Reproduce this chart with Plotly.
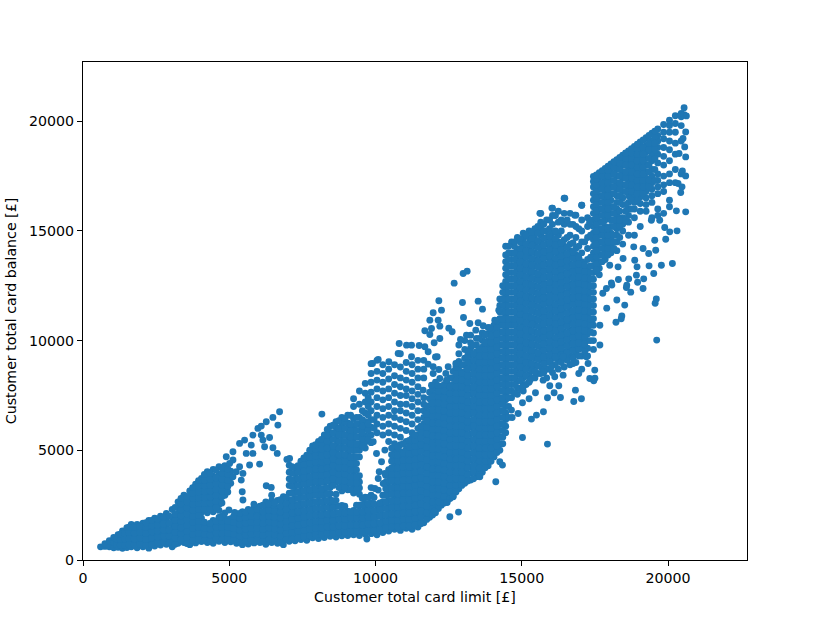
import plotly.graph_objects as go

low_limits = [600, 750, 900, 1050, 1200, 1350, 1500, 1650, 1850, 2050, 2250, 2450, 2650, 2850, 3050, 3250, 3450, 3650, 3850, 4050, 4250, 4450, 4650, 4850, 5050, 5250, 5450, 5650, 5850, 6050, 6250, 6450, 6650, 6850, 7050]
low_balances = [
    [600], [620, 740], [600, 880], [560, 800, 1030], [580, 850, 1150], [530, 800, 1060, 1320],
    [570, 840, 1100, 1470], [600, 870, 1140, 1400, 1620], [560, 830, 1100, 1350, 1620],
    [600, 870, 1130, 1400, 1680], [540, 820, 1090, 1350, 1650, 1800], [640, 900, 1160, 1430, 1750, 1900],
    [680, 940, 1200, 1470, 1800, 2000], [720, 980, 1250, 1520, 1830, 2120],
    [600, 860, 1130, 1400, 1680, 1950, 2300], [760, 1030, 1300, 1570, 1840, 2110, 2380, 2650],
    [800, 1070, 1340, 1610, 1880, 2150, 2420, 2690, 2950], [700, 980, 1250, 1520, 1790, 2060, 2330, 2600, 2870, 3150],
    [780, 1040, 1310, 1580, 1850, 2120, 2390, 2660, 2930, 3200, 3450],
    [840, 1100, 1370, 1640, 1910, 2180, 2450, 2720, 2990, 3260, 3530, 3720],
    [800, 1060, 1330, 1600, 2150, 2420, 2690, 2960, 3230, 3500, 3770, 4020],
    [760, 1020, 1290, 1560, 1800, 2200, 2470, 2740, 3010, 3280, 3550, 3820, 4130],
    [850, 1120, 1390, 1660, 1940, 2260, 2530, 2800, 3070, 3340, 3610, 3880, 4250],
    [800, 1080, 1350, 1620, 1900, 2150, 2950, 3220, 3490, 3760, 4030, 4300],
    [830, 1070, 1340, 1610, 1880, 3500, 3780, 4050],
    [760, 1030, 1300, 1570, 1850, 2100], [700, 970, 1240, 1510, 1780, 2050, 2200],
    [730, 1000, 1270, 1540, 1810, 2080, 2300], [780, 1050, 1320, 1590, 1860, 2130, 2400],
    [800, 1070, 1340, 1610, 1880, 2150, 2450], [720, 990, 1260, 1530, 1800, 2070, 2340, 2650],
    [800, 1070, 1340, 1610, 1880, 2150, 2420, 2700, 2950], [760, 1030, 1300, 1570, 1840, 2110, 2380, 2720],
    [700, 970, 1240, 1510, 1780, 2050, 2320, 2590, 2880], [850, 1120, 1390, 1660, 1930, 2200, 2470, 2740, 3050, 3400, 3700, 4000, 4320],
]

middle_limits = [7250, 7450, 7650, 7850, 8050, 8250, 8450, 8650, 8850, 9050, 9250, 9450, 9650, 9850, 10050, 10250, 10450, 10650, 10850, 11050, 11250, 11450, 11650]
middle_balances = [
    [880, 1150, 1420, 1700, 1980, 2250, 2530, 2810, 3090, 3370, 3650, 3930, 4200],
    [930, 1200, 1480, 1750, 2030, 2310, 2580, 2860, 3140, 3420, 3700, 3970, 4250, 4500],
    [900, 1180, 1460, 1730, 2000, 2280, 2560, 2840, 3110, 3390, 3670, 3950, 4220, 4500, 4780],
    [1010, 1280, 1560, 1830, 2110, 2390, 2670, 2950, 3220, 3500, 3780, 4060, 4330, 4610, 4890, 5200],
    [980, 1250, 1530, 1810, 2090, 2360, 2640, 2920, 3200, 3480, 3750, 4030, 4310, 4590, 4870, 5140, 5400],
    [1020, 1300, 1580, 1860, 2130, 2410, 2690, 2970, 3250, 3530, 3800, 4080, 4360, 4640, 4910, 5190, 5470, 5700],
    [1080, 1350, 1630, 1900, 2180, 2460, 2740, 3020, 3300, 3570, 3850, 4130, 4410, 4690, 4960, 5240, 5520, 5800, 6100],
    [1050, 1330, 1610, 1880, 2160, 2440, 2720, 3000, 3560, 3840, 4120, 4400, 4680, 4950, 5230, 5510, 5790, 6050, 6300],
    [1100, 1380, 1650, 1930, 2210, 2490, 3150, 3430, 3710, 3990, 4270, 4550, 4820, 5100, 5380, 5660, 5940, 6200, 6500],
    [1120, 1400, 1680, 1950, 2230, 3200, 3480, 3750, 4030, 4310, 4590, 4870, 5140, 5420, 5700, 5980, 6250, 6600],
    [1150, 1430, 1700, 1980, 2260, 3050, 3330, 3610, 3880, 4160, 4440, 4720, 5000, 5270, 5550, 5830, 6100, 6450, 7000, 7350],
    [1120, 1400, 1680, 1960, 2240, 2500, 3000, 3280, 3560, 3840, 4700, 5000, 5300, 5600, 5900, 6200, 6500, 7100, 7700],
    [1180, 1460, 1740, 2020, 2300, 2580, 2860, 5100, 5380, 5660, 6000, 6300, 6700, 7200, 7600, 8050],
    [1200, 1480, 1760, 2040, 2320, 2600, 2950, 3300, 5350, 5700, 6050, 6400, 6800, 7200, 7650, 8100, 8500, 8950],
    [1150, 1430, 1700, 1980, 2260, 2500, 5800, 6200, 6600, 7000, 7400, 7800, 8200, 8600, 9100],
    [1250, 1530, 1800, 2080, 2360, 2650, 2950, 5700, 6100, 6500, 6900, 7300, 7700, 8100, 8500, 8900],
    [1320, 1600, 1880, 2160, 2440, 2720, 3000, 3280, 3560, 3840, 4120, 5400, 5800, 6200, 6600, 7000, 7400, 7800, 8250, 8700],
    [1400, 1700, 2000, 2300, 2600, 2900, 3200, 3500, 3800, 4100, 4400, 4700, 5000, 5300, 5700, 6100, 6500, 6800, 7200, 7600, 8000, 8400, 8900],
    [1350, 1650, 1950, 2250, 2550, 2850, 3150, 3450, 3750, 4050, 4350, 4650, 4950, 5250, 5600, 6000, 6400, 6800, 7100, 7500, 7900, 8300, 8800, 9400],
    [1450, 1750, 2050, 2350, 2650, 2950, 3250, 3550, 3850, 4150, 4450, 4750, 5050, 5400, 5900, 6300, 6700, 7100, 7500, 7800, 8200, 8600, 9000],
    [1400, 1700, 2000, 2300, 2600, 2900, 3200, 3500, 3800, 4100, 4400, 4700, 5000, 5300, 5550, 5800, 6200, 6600, 7000, 7350, 7700, 8100, 8500, 8900],
    [1500, 1800, 2100, 2400, 2700, 3000, 3300, 3600, 3900, 4200, 4500, 4800, 5100, 5400, 5700, 6000, 6400, 6800, 7200, 7550, 7900, 8300, 8700, 9100],
    [1700, 2000, 2300, 2600, 2900, 3200, 3500, 3800, 4100, 4400, 4700, 5000, 5300, 5600, 5900, 6200, 6500, 6800, 7100, 7400, 8300, 8700, 9100],
]

blob_limits = [11850, 12050, 12250, 12450, 12650, 12850, 13050, 13250, 13450, 13650, 13850, 14050, 14250, 14450]
blob_balances = [
    [1950, 2250, 2550, 2850, 3150, 3450, 3750, 4050, 4350, 4650, 4950, 5250, 5550, 5850, 6150, 6450, 6750, 7050, 7350, 7650],
    [2150, 2450, 2750, 3050, 3350, 3650, 3950, 4250, 4550, 4850, 5150, 5450, 5750, 6050, 6350, 6650, 6950, 7250, 7550, 7850, 8100, 9250],
    [2500, 2800, 3100, 3400, 3700, 4000, 4300, 4600, 4900, 5200, 5500, 5800, 6100, 6400, 6700, 7000, 7300, 7600, 7900],
    [2700, 3000, 3300, 3600, 3900, 4200, 4500, 4800, 5100, 5400, 5700, 6000, 6300, 6600, 6900, 7200, 7500, 7800, 8050],
    [2900, 3200, 3500, 3800, 4100, 4400, 4700, 5000, 5300, 5600, 5900, 6200, 6500, 6800, 7100, 7400, 7700, 8000, 8300, 8600],
    [3250, 3550, 3850, 4150, 4450, 4750, 5050, 5350, 5650, 5950, 6250, 6550, 6850, 7150, 7450, 7750, 8050, 8350, 8650, 9050, 9400, 9800],
    [3500, 3800, 4100, 4400, 4700, 5000, 5300, 5600, 5900, 6200, 6500, 6800, 7100, 7400, 7700, 8000, 8300, 8600, 8900, 9200, 9600, 10000],
    [3650, 3950, 4250, 4550, 4850, 5150, 5450, 5750, 6050, 6350, 6650, 6950, 7250, 7550, 7850, 8150, 8450, 8750, 9050, 9350, 9650, 9900, 10250],
    [3800, 4100, 4400, 4700, 5000, 5300, 5600, 5900, 6200, 6500, 6800, 7100, 7400, 7700, 8000, 8300, 8600, 8900, 9200, 9500, 9800, 10100],
    [4000, 4300, 4600, 4900, 5200, 5500, 5800, 6100, 6400, 6700, 7000, 7300, 7600, 7900, 8200, 8500, 8800, 9100, 9400, 9700, 10000, 10350],
    [4300, 4600, 4900, 5200, 5500, 5800, 6100, 6400, 6700, 7000, 7300, 7600, 7900, 8200, 8500, 8800, 9100, 9400, 9700, 10000, 10300, 10600],
    [4700, 5000, 5300, 5600, 5900, 6200, 6500, 6800, 7100, 7400, 7700, 8000, 8300, 8600, 8900, 9200, 9500, 9800, 10100, 10400, 10700],
    [5000, 5300, 5600, 5900, 6200, 6500, 6800, 7100, 7400, 7700, 8000, 8300, 8600, 8900, 9200, 9500, 9800, 10100, 10400, 10700, 11000, 11300, 11600, 11900],
    [5800, 6100, 6400, 6700, 7000, 7300, 7600, 7900, 8200, 8500, 8800, 9100, 9400, 9700, 10000, 10300, 10600, 10900, 11200, 11500, 11800, 12100, 12400, 12700, 13000, 13300, 13600, 13900, 14300],
]

peak_limits = [14650, 14850, 15050, 15250, 15450, 15650, 15850, 16050, 16250, 16450, 16650, 16850, 17050, 17250, 17450]
peak_balances = [
    [7400, 7700, 8000, 8300, 8600, 8900, 9200, 9500, 9800, 10100, 10400, 10700, 11000, 11300, 11600, 11900, 12200, 12500, 12800, 13100, 13400, 13700, 14000, 14500],
    [7550, 7850, 8150, 8450, 8750, 9050, 9350, 9650, 9950, 10250, 10550, 10850, 11150, 11450, 11750, 12050, 12350, 12650, 12950, 13250, 13550, 13850, 14150, 14700],
    [7700, 8000, 8300, 8600, 8900, 9200, 9500, 9800, 10100, 10400, 10700, 11000, 11300, 11600, 11900, 12200, 12500, 12800, 13100, 13400, 13700, 14000, 14300, 14600, 14900],
    [8100, 8450, 8750, 9050, 9350, 9650, 9950, 10250, 10550, 10850, 11150, 11450, 11750, 12050, 12350, 12650, 12950, 13250, 13550, 13850, 14150, 14450, 14700, 15000],
    [8300, 8600, 8900, 9200, 9500, 9800, 10100, 10400, 10700, 11000, 11300, 11600, 11900, 12200, 12500, 12800, 13100, 13400, 13700, 14000, 14300, 14600, 14850, 15100],
    [8500, 8800, 9100, 9400, 9700, 10000, 10300, 10600, 10900, 11200, 11500, 11800, 12100, 12400, 12700, 13000, 13300, 13600, 13900, 14200, 14500, 14800, 15100, 15400, 15800],
    [8300, 8700, 9000, 9300, 9600, 9900, 10200, 10500, 10800, 11100, 11400, 11700, 12000, 12300, 12600, 12900, 13200, 13500, 13800, 14100, 14400, 14700, 15000, 15500],
    [8550, 8900, 9200, 9500, 9800, 10100, 10400, 10700, 11000, 11300, 11600, 11900, 12200, 12500, 12800, 13100, 13400, 13700, 14000, 14300, 14600, 14900, 15300, 15700, 16040],
    [8700, 9100, 9400, 9700, 10000, 10300, 10600, 10900, 11200, 11500, 11800, 12100, 12400, 12700, 13000, 13300, 13600, 13900, 14200, 14500, 14800, 15400, 15900],
    [8800, 9200, 9500, 9800, 10100, 10400, 10700, 11000, 11300, 11600, 11900, 12200, 12500, 12800, 13100, 13400, 13700, 14000, 14300, 14600, 15300, 15800, 16490],
    [8900, 9300, 9600, 9900, 10200, 10500, 10800, 11100, 11400, 11700, 12000, 12300, 12600, 12900, 13200, 13500, 13800, 14100, 14400, 14800, 15300, 15800],
    [9000, 9400, 9700, 10000, 10300, 10600, 10900, 11200, 11500, 11800, 12100, 12400, 12700, 13000, 13300, 13600, 13900, 14200, 14700, 15200, 15720],
    [8700, 9300, 9700, 10000, 10300, 10600, 10900, 11200, 11500, 11800, 12100, 12400, 12700, 13000, 13300, 13600, 14000, 14500, 15000, 15500, 16170],
    [9300, 9650, 10000, 10300, 10600, 10900, 11200, 11500, 11800, 12100, 12400, 12700, 13000, 13300, 13700, 14200, 14700, 15200, 15600],
    [9600, 10000, 10350, 10700, 11000, 11300, 11600, 11900, 12200, 12500, 12800, 13100, 13400, 13700, 14000, 14300, 14600, 14900, 15200, 15500, 15800, 16100, 16400, 16700, 17000, 17250, 17480],
]

top_limits = [17650, 17850, 18050, 18250, 18450, 18650, 18850, 19050, 19250, 19450, 19650, 19850, 20050, 20250, 20450, 20550]
top_balances = [
    [13000, 13300, 13600, 13900, 14200, 14500, 14800, 15100, 15400, 15700, 16000, 16300, 16600, 16900, 17200, 17450, 17650],
    [13700, 14000, 14300, 14600, 14900, 15200, 15500, 15800, 16100, 16400, 16700, 17000, 17300, 17600, 17850],
    [14000, 14300, 14600, 14900, 15200, 15500, 15800, 16100, 16400, 16700, 17000, 17300, 17600, 17850, 18050],
    [14100, 14500, 14800, 15100, 15400, 15700, 16000, 16300, 16600, 16900, 17200, 17500, 17800, 18050, 18250],
    [14400, 15000, 15300, 15600, 16200, 16500, 16800, 17100, 17400, 17700, 18000, 18250, 18450],
    [14800, 15400, 15700, 16000, 16300, 16600, 17000, 17300, 17600, 17900, 18200, 18450, 18650],
    [14800, 15600, 16000, 16300, 16600, 16900, 17200, 17500, 17800, 18100, 18400, 18650, 18850],
    [15200, 15900, 16250, 16550, 16850, 17150, 17450, 17750, 18050, 18350, 18650, 18850, 19050],
    [15900, 16200, 16500, 16800, 17100, 17400, 17700, 18000, 18300, 18600, 18900, 19250],
    [15600, 16300, 16600, 16900, 17200, 17500, 17800, 18200, 18500, 18800, 19100, 19450],
    [15700, 16000, 16700, 17000, 17300, 17600, 18100, 18500, 18800, 19100, 19350, 19650],
    [15800, 16800, 17100, 17500, 18000, 18400, 18800, 19200, 19500, 19850],
    [16100, 16400, 17200, 17600, 18200, 18700, 19100, 19500, 19800, 20050],
    [17200, 17800, 18500, 19000, 19500, 19900, 20250],
    [17600, 19100, 19800, 20200, 20350],
    [20300, 20620],
]

# Customers between the columns above, in the crowded parts of the cloud
between_limits_a = [1150, 1275, 1425, 1575, 1750, 1950, 2150, 2350, 2550, 2750, 2950, 3150, 3350, 3550, 3750, 3950, 4150, 4350, 4550, 4750, 4950, 5150, 5350, 5550, 5750, 5950, 6150, 6350, 6550, 6750, 6950, 7150]
between_balances_a = [
    [700, 950], [680, 930, 1180], [680, 950, 1200], [700, 980, 1250, 1500], [700, 970, 1230, 1480], [720, 1000, 1260, 1520],
    [680, 950, 1220, 1500, 1700], [700, 1000, 1290, 1560, 1800], [780, 1050, 1320, 1600, 1870], [820, 1090, 1360, 1650, 1950],
    [800, 1100, 1380, 1670, 2000], [720, 1000, 1270, 1540, 1810, 2080, 2400], [920, 1200, 1470, 1750, 2020, 2290, 2560, 2800],
    [750, 1020, 1300, 1570, 1840, 2110, 2380, 2650, 2900], [900, 1180, 1450, 1720, 1990, 2260, 2530, 2800, 3050, 3300],
    [950, 1220, 1490, 1760, 2030, 2300, 2570, 2840, 3110, 3380, 3620], [900, 1180, 1450, 1720, 2300, 2570, 2840, 3110, 3380, 3650, 3900],
    [880, 1150, 1420, 1680, 2330, 2600, 2870, 3140, 3410, 3680, 3950], [960, 1230, 1500, 1770, 2400, 2670, 2940, 3210, 3480, 3750, 4100],
    [930, 1200, 1480, 1750, 2000, 2600, 2880, 3150, 3420, 3690, 3960, 4200], [940, 1210, 1480, 1750, 3100, 3350, 3620, 3900, 4150],
    [900, 1170, 1440, 1710, 1980], [830, 1100, 1370, 1640, 1910, 2120], [860, 1130, 1400, 1670, 1940, 2180], [900, 1170, 1440, 1710, 1980, 2250],
    [920, 1190, 1460, 1730, 2000, 2300], [850, 1120, 1390, 1660, 1930, 2200, 2500], [930, 1200, 1470, 1740, 2010, 2280, 2550],
    [880, 1150, 1420, 1690, 1960, 2230, 2600], [830, 1100, 1370, 1640, 1910, 2180, 2450, 2750], [950, 1220, 1490, 1760, 2030, 2300, 2570, 2850],
    [950, 1250, 1550, 1850, 2150, 2450, 2750, 3050, 3350, 3650, 3950, 4250],
]

between_limits_b = [7350, 7550, 7750, 7950, 8150, 8350, 8550, 8750, 8950, 9150, 9350, 9550, 9750, 9950, 10150, 10350, 10550, 10750, 10950, 11150, 11350, 11550, 11750]
between_balances_b = [
    [1000, 1300, 1600, 1900, 2200, 2500, 2800, 3100, 3400, 3700, 4000, 4300],
    [1050, 1350, 1650, 1950, 2250, 2550, 2850, 3150, 3450, 3750, 4050, 4350, 4650],
    [1100, 1400, 1700, 2000, 2300, 2600, 2900, 3200, 3500, 3800, 4100, 4400, 4700, 5000],
    [1150, 1450, 1750, 2050, 2350, 2650, 2950, 3250, 3550, 3850, 4150, 4450, 4750, 5050, 5250],
    [1150, 1450, 1750, 2050, 2350, 2650, 2950, 3250, 3550, 3850, 4150, 4450, 4750, 5050, 5350, 5500],
    [1200, 1500, 1800, 2100, 2400, 2700, 3000, 3300, 3600, 3900, 4200, 4500, 4800, 5100, 5400, 5700, 5950],
    [1200, 1500, 1800, 2100, 2400, 2700, 3400, 3700, 4000, 4300, 4600, 4900, 5200, 5500, 5800, 6150],
    [1250, 1550, 1850, 2150, 2450, 3300, 3600, 3900, 4200, 4500, 4800, 5100, 5400, 5700, 6000, 6350],
    [1250, 1550, 1850, 2150, 2450, 3300, 3600, 3900, 4200, 4500, 4800, 5100, 5400, 5700, 6000, 6300, 6450],
    [1300, 1600, 1900, 2200, 3200, 3500, 3800, 4100, 4400, 4700, 5000, 5300, 5600, 5900, 6200, 6600],
    [1300, 1600, 1900, 2200, 2500, 3200, 3500, 3800, 4100, 4400, 4700, 5000, 5300, 5600, 5900, 6200, 6500],
    [1300, 1600, 1900, 2200, 2500, 2800, 5200, 5500, 5800, 6100, 6400, 6800],
    [1350, 1650, 1950, 2250, 2550, 2850, 5500, 5900, 6200, 6600, 7000, 7400],
    [1350, 1650, 1950, 2250, 2550, 2850, 6000, 6400],
    [1400, 1700, 2000, 2300, 2600],
    [1450, 1750, 2050, 2350, 2650, 2950, 3250, 3550, 3850],
    [1500, 1800, 2100, 2400, 2700, 3000, 3300, 3600, 3900, 4200, 4500, 4800, 5100],
    [1500, 1800, 2100, 2400, 2700, 3000, 3300, 3600, 3900, 4200, 4500, 4800, 5150],
    [1550, 1850, 2150, 2450, 2750, 3050, 3350, 3650, 3950, 4250, 4550, 4850, 5300],
    [1550, 1850, 2150, 2450, 2750, 3050, 3350, 3650, 3950, 4250, 4550, 4850, 5150, 5450],
    [1600, 1900, 2200, 2500, 2800, 3100, 3400, 3700, 4000, 4300, 4600, 4900, 5200, 5450, 5700],
    [1650, 1950, 2250, 2550, 2850, 3150, 3450, 3750, 4050, 4350, 4650, 4950, 5250, 5550, 5850, 6100],
    [1850, 2150, 2450, 2750, 3050, 3350, 3650, 3950, 4250, 4550, 4850, 5150, 5450, 5750, 6050, 6350, 6650, 7000],
]

between_limits_c = [11950, 12150, 12350, 12550, 12750, 12950, 13150, 13350, 13550, 13750, 13950, 14150, 14350, 14550]
between_balances_c = [
    [2050, 2350, 2650, 2950, 3250, 3550, 3850, 4150, 4450, 4750, 5050, 5350, 5650, 5950, 6250, 6550, 6850, 7150, 7450, 7800],
    [2350, 2650, 2950, 3250, 3550, 3850, 4150, 4450, 4750, 5050, 5350, 5650, 5950, 6250, 6550, 6850, 7150, 7450, 7700, 7950],
    [2600, 2900, 3200, 3500, 3800, 4100, 4400, 4700, 5000, 5300, 5600, 5900, 6200, 6500, 6800, 7100, 7400, 7700, 8000],
    [2800, 3100, 3400, 3700, 4000, 4300, 4600, 4900, 5200, 5500, 5800, 6100, 6400, 6700, 7000, 7300, 7600, 7900, 8300],
    [3100, 3400, 3700, 4000, 4300, 4600, 4900, 5200, 5500, 5800, 6100, 6400, 6700, 7000, 7300, 7600, 7900, 8200, 8500, 8800],
    [3400, 3700, 4000, 4300, 4600, 4900, 5200, 5500, 5800, 6100, 6400, 6700, 7000, 7300, 7600, 7900, 8200, 8500, 8900],
    [3600, 3900, 4200, 4500, 4800, 5100, 5400, 5700, 6000, 6300, 6600, 6900, 7200, 7500, 7800, 8100, 8400, 8700, 9000, 9300, 9500],
    [3700, 4000, 4300, 4600, 4900, 5200, 5500, 5800, 6100, 6400, 6700, 7000, 7300, 7600, 7900, 8200, 8500, 8800, 9100, 9400, 9800],
    [3900, 4200, 4500, 4800, 5100, 5400, 5700, 6000, 6300, 6600, 6900, 7200, 7500, 7800, 8100, 8400, 8700, 9000, 9300, 9600, 10100],
    [4200, 4500, 4800, 5100, 5400, 5700, 6000, 6300, 6600, 6900, 7200, 7500, 7800, 8100, 8400, 8700, 9000, 9300, 9600, 9900, 10300],
    [4500, 4800, 5100, 5400, 5700, 6000, 6300, 6600, 6900, 7200, 7500, 7800, 8100, 8400, 8700, 9000, 9300, 9600, 9900, 10200, 10500],
    [4900, 5200, 5500, 5800, 6100, 6400, 6700, 7000, 7300, 7600, 7900, 8200, 8500, 8800, 9100, 9400, 9700, 10000, 10300, 10600, 10900],
    [5300, 5600, 5900, 6200, 6500, 6800, 7100, 7400, 7700, 8000, 8300, 8600, 8900, 9200, 9500, 9800, 10100, 10400, 10700, 11000, 11300, 11600, 11900, 12200, 12500],
    [6500, 7000, 7400, 7700, 8000, 8300, 8600, 8900, 9200, 9500, 9800, 10100, 10400, 10700, 11000, 11300, 11600, 11900, 12200, 12500, 12800, 13100, 13400, 13700, 14000, 14300],
]

between_limits_d = [14750, 14950, 15150, 15350, 15550, 15750, 15950, 16150, 16350, 16550, 16750, 16950, 17150, 17350]
between_balances_d = [
    [7600, 8000, 8300, 8600, 8900, 9200, 9500, 9800, 10100, 10400, 10700, 11000, 11300, 11600, 11900, 12200, 12500, 12800, 13100, 13400, 13700, 14000, 14300, 14500],
    [7800, 8200, 8500, 8800, 9100, 9400, 9700, 10000, 10300, 10600, 10900, 11200, 11500, 11800, 12100, 12400, 12700, 13000, 13300, 13600, 13900, 14200, 14500, 14650],
    [8000, 8400, 8700, 9000, 9300, 9600, 9900, 10200, 10500, 10800, 11100, 11400, 11700, 12000, 12300, 12600, 12900, 13200, 13500, 13800, 14100, 14400, 14800],
    [8300, 8650, 8950, 9250, 9550, 9850, 10150, 10450, 10750, 11050, 11350, 11650, 11950, 12250, 12550, 12850, 13150, 13450, 13750, 14050, 14350, 14650, 14950],
    [8500, 8850, 9150, 9450, 9750, 10050, 10350, 10650, 10950, 11250, 11550, 11850, 12150, 12450, 12750, 13050, 13350, 13650, 13950, 14250, 14550, 14900, 15200],
    [8600, 8950, 9250, 9550, 9850, 10150, 10450, 10750, 11050, 11350, 11650, 11950, 12250, 12550, 12850, 13150, 13450, 13750, 14050, 14350, 14650, 15000, 15300],
    [8700, 9050, 9350, 9650, 9950, 10250, 10550, 10850, 11150, 11450, 11750, 12050, 12350, 12650, 12950, 13250, 13550, 13850, 14150, 14450, 14750, 15100, 15500],
    [8900, 9250, 9550, 9850, 10150, 10450, 10750, 11050, 11350, 11650, 11950, 12250, 12550, 12850, 13150, 13450, 13750, 14050, 14350, 14650, 15000, 15700],
    [9000, 9350, 9650, 9950, 10250, 10550, 10850, 11150, 11450, 11750, 12050, 12350, 12650, 12950, 13250, 13550, 13850, 14150, 14450, 15000, 15500],
    [9100, 9450, 9750, 10050, 10350, 10650, 10950, 11250, 11550, 11850, 12150, 12450, 12750, 13050, 13350, 13650, 13950, 14250, 14700, 15500],
    [9200, 9550, 9850, 10150, 10450, 10750, 11050, 11350, 11650, 11950, 12250, 12550, 12850, 13150, 13450, 13750, 14050, 14450, 15300],
    [9300, 9600, 9900, 10200, 10500, 10800, 11100, 11400, 11700, 12000, 12300, 12600, 12900, 13200, 13500, 13800, 14300, 15100],
    [9500, 9850, 10150, 10450, 10750, 11050, 11350, 11650, 11950, 12250, 12550, 12850, 13150, 13450, 14500],
    [10000, 10400, 10700, 11000, 11300, 11600, 11900, 12200, 12500, 12800, 13100, 13400, 13800, 14800],
]

between_limits_e = [17550, 17750, 17950, 18150, 18350, 18550, 18750, 18950, 19150, 19350, 19550]
between_balances_e = [
    [13200, 13500, 13800, 14100, 14400, 14700, 15000, 15300, 15600, 15900, 16200, 16500, 16800, 17100, 17350, 17550],
    [13600, 13900, 14200, 14500, 14800, 15100, 15400, 15700, 16000, 16300, 16600, 16900, 17200, 17500, 17750],
    [13900, 14200, 14500, 14800, 15100, 15700, 16000, 16300, 16600, 16900, 17200, 17500, 17750, 17950],
    [14200, 14500, 14800, 15200, 15500, 15800, 16100, 16700, 17000, 17300, 17600, 17900, 18150],
    [14700, 15200, 15500, 15900, 16300, 16600, 16900, 17200, 17500, 17800, 18100, 18350],
    [15500, 15900, 16200, 16800, 17100, 17400, 17700, 18000, 18300, 18550],
    [16000, 16400, 16800, 17100, 17400, 17700, 18000, 18300, 18550, 18750],
    [16400, 16700, 17000, 17300, 17600, 17900, 18200, 18500, 18750, 18950],
    [16700, 17000, 17300, 17600, 17900, 18200, 18500, 18800, 19150],
    [17000, 17300, 17700, 18000, 18300, 18700, 19000, 19350],
    [17300, 17800, 18300, 18700, 19000, 19300, 19550],
]

# Stray customers read individually
stray_limits = [
    4898, 5126, 5353, 5524, 5809, 5980, 6094, 6265, 6492, 6720, 5012, 5353, 5695, 5809, 5410, 6094, 6151, 6378, 6208, 6492,
    6640, 6037, 6663, 7062, 6971, 8167, 6265, 6435, 5444, 5467, 5843, 4989, 5182, 4670, 5126, 5581, 5239, 5467, 5752, 5126,
    9704, 10035, 10206, 10320, 9921, 10126, 10092, 10320, 9978, 10092, 10263,
    10809, 10775, 11060, 11231, 11493, 11686, 11800, 11231, 12108, 11800, 10092, 10456, 9898, 12165, 11971, 12256, 11857, 12142, 12199,
    11686, 11914, 11857, 12506, 12620, 12199, 12005, 12689, 12996, 13133, 12973, 13509, 13657, 13008, 12905, 13224, 13509, 13680, 13907, 14078,
    14215, 13110, 13429, 13737, 11971, 12165, 12484, 12404, 12746, 11971, 12199, 12427, 11914, 11629,
    15024, 15878, 14112, 14249, 14340, 13566, 12541, 12837, 12005, 12449, 12655, 15331, 15502, 15741, 14671, 14648, 14876, 15024, 15251, 15878,
    16322, 16778, 17040, 16835, 16106, 16265, 15958, 15730, 16949, 16413, 16128, 15468, 17324, 17461, 17495, 17267, 16755, 16413, 17210, 16015,
    15753, 15445, 15274, 15047, 15620, 16470, 17050, 16030, 16810, 17320,
    20149, 19773, 19352, 19511, 18941, 18862, 18828, 19146, 19340, 19579, 19921, 19545, 18919, 18657, 18304, 19169, 18463, 18007, 18292, 18064,
    17894, 18577, 19146, 19613, 19560, 19600, 18400, 18960, 19716, 20286, 20604, 20308, 20058, 19887, 19431,
    17770, 18080, 18250, 17905, 18520, 17670, 18220, 18420, 18590, 18725, 17560, 17670, 17500,
    20627, 20604, 20570, 20377, 20513, 20604, 20491, 20604, 20343, 20479, 20434,
]
stray_balances = [
    4707, 4934, 5314, 5466, 5694, 5998, 6104, 6301, 6499, 6757, 4403, 4251, 4327, 4858, 3643, 5694, 5466, 5587, 5162, 5117,
    4858, 4372, 6150, 4630, 4585, 6651, 3385, 3309, 3112, 2732, 2549, 2276, 2170, 1942, 4555, 4858, 4023, 3947, 5238, 3795,
    955, 4857, 4478, 5009, 5389, 4022, 3718, 3946, 3262, 3187, 3490,
    9870, 9414, 9794, 9794, 9779, 9718, 9490, 9262, 9262, 8928, 9141, 9035, 8959, 11814, 11268, 11389, 10933, 10933, 10660,
    10447, 10554, 10280, 10569, 10402, 10098, 9900, 12619, 13060, 13166, 11738, 11799, 11435, 11055, 10052, 10782, 10812, 10675, 10584, 10933,
    11389, 10250, 10478, 10250, 8807, 8685, 8807, 8503, 8959, 8503, 8275, 8199, 7971, 7744,
    5586, 5283, 3566, 4478, 4326, 3794, 1971, 2184, 2230, 2624, 2883, 6422, 6604, 6756, 6498, 6832, 6680, 7166, 7349, 7394,
    7409, 7227, 7349, 7743, 7622, 7941, 7941, 8199, 8503, 8427, 8351, 7622, 8275, 8169, 8655, 8959, 8959, 9262, 9262, 8807,
    8549, 8579, 8199, 7895, 15800, 16490, 16170, 16040, 15720, 15400,
    13514, 13438, 13408, 13058, 13362, 13666, 14274, 14198, 13970, 14122, 14623, 14577, 12983, 12815, 12785, 12815, 13742, 13438, 13362, 12633,
    12375, 12421, 12375, 10023, 11700, 11900, 11000, 12660, 15489, 15914, 15869, 15003, 14957, 15155, 15489,
    12160, 12530, 11850, 11480, 11620, 10700, 10840, 11120, 12530, 12210, 13210, 9800, 8290,
    20243, 18375, 18831, 18527, 19210, 19514, 17737, 17509, 17160, 17008, 16750,
]

X_TITLE = "Customer total card limit [£]"
Y_TITLE = "Customer total card balance [£]"
TICKS_X = [0, 5000, 10000, 15000, 20000]
TICKS_Y = [0, 5000, 10000, 15000, 20000]

xs, ys = [], []
for limits, balances in [(low_limits, low_balances), (middle_limits, middle_balances),
                         (blob_limits, blob_balances), (peak_limits, peak_balances),
                         (top_limits, top_balances),
                         (between_limits_a, between_balances_a), (between_limits_b, between_balances_b),
                         (between_limits_c, between_balances_c), (between_limits_d, between_balances_d),
                         (between_limits_e, between_balances_e)]:
    for limit, column in zip(limits, balances):
        xs.extend([limit] * len(column))
        ys.extend(column)
xs.extend(stray_limits)
ys.extend(stray_balances)

fig = go.Figure(go.Scatter(
    x=xs, y=ys, mode="markers",
    marker=dict(size=6.9, color="#1f77b4", line=dict(width=0)),
    hoverinfo="skip", showlegend=False,
))
axis = dict(showgrid=False, zeroline=False, showline=True, linecolor="black", linewidth=1.1,
            mirror=True, ticks="outside", ticklen=5, tickwidth=1.1, tickcolor="black",
            tickformat="d", tickfont=dict(family="DejaVu Sans", size=14.2, color="black"))
fig.update_layout(
    width=830, height=623, paper_bgcolor="white", plot_bgcolor="white",
    margin=dict(l=83, r=83, t=62, b=63),
    font=dict(family="DejaVu Sans", size=14.2, color="black"),
    xaxis=dict(axis, range=[0, 22700], tickvals=TICKS_X, title=dict(text=X_TITLE, standoff=6, font=dict(size=14.2))),
    yaxis=dict(axis, range=[0, 22700], tickvals=TICKS_Y, title=dict(text=Y_TITLE, standoff=8, font=dict(size=14.2))),
)
fig.write_html("out.html", post_script="document.body.style.margin='0';window.dispatchEvent(new Event('resize'));",
               config={"displayModeBar": False})
